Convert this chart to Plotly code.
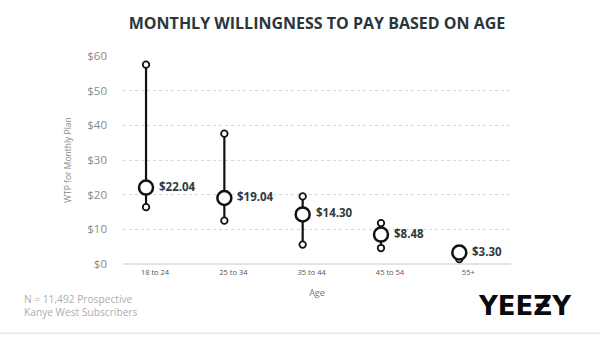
import plotly.graph_objects as go

categories = ["18 to 24", "25 to 34", "35 to 44", "45 to 54", "55+"]
wtp_mean = [22.04, 19.04, 14.30, 8.48, 3.30]
wtp_low = [16.4, 12.5, 5.6, 4.6, 1.4]
wtp_high = [57.5, 37.6, 19.5, 11.8, 3.6]
mean_labels = ["$22.04", "$19.04", "$14.30", "$8.48", "$3.30"]
y_ticks = [0, 10, 20, 30, 40, 50, 60]
y_ticklabels = ["$0", "$10", "$20", "$30", "$40", "$50", "$60"]
footnote_lines = ["N = 11,492 Prospective", "Kanye West Subscribers"]

W, H = 600, 337
L, R, T, B = 123, 89, 55.5, 72.5
PW, PH = W - L - R, H - T - B


def px_x(x):
    return (x - L) / PW


def px_y(y):
    return (H - B - y) / PH


fig = go.Figure()

# range lines
lx, ly = [], []
for c, lo, hi in zip(categories, wtp_low, wtp_high):
    lx += [c, c, None]
    ly += [lo, hi, None]
fig.add_trace(go.Scatter(x=lx, y=ly, mode="lines",
                         line=dict(color="#111111", width=2.2),
                         hoverinfo="skip", showlegend=False, cliponaxis=False))

# end circles
fig.add_trace(go.Scatter(x=categories + categories, y=wtp_low + wtp_high, mode="markers",
                         marker=dict(size=6.5, color="white",
                                     line=dict(color="#111111", width=1.8)),
                         showlegend=False, cliponaxis=False))

# mean circles
fig.add_trace(go.Scatter(x=categories, y=wtp_mean, mode="markers",
                         marker=dict(size=14, color="white",
                                     line=dict(color="#111111", width=2.5)),
                         showlegend=False, cliponaxis=False))

for c, m, lab in zip(categories, wtp_mean, mean_labels):
    fig.add_annotation(x=c, y=m, text=f"<b>{lab}</b>", xref="x", yref="y",
                       xanchor="left", yanchor="middle", xshift=11, yshift=1.5,
                       showarrow=False,
                       font=dict(family="Open Sans", size=11.5, color="#2f3a40"))

fig.update_layout(
    width=W, height=H,
    margin=dict(l=L, r=R, t=T, b=B),
    paper_bgcolor="white", plot_bgcolor="white",
    font=dict(family="Open Sans", color="#888888"),
    title=dict(text="<b>MONTHLY WILLINGNESS TO PAY BASED ON AGE</b>",
               x=0.5, xanchor="center", xref="paper",
               y=1 - 23 / H, yanchor="middle", yref="container",
               font=dict(family="Open Sans", size=16, color="#2b363c")),
    xaxis=dict(type="category", categoryorder="array", categoryarray=categories,
               range=[-0.294, 4.66], showgrid=False, zeroline=False,
               showline=False, ticks="", ticklabelshift=9, ticklabelstandoff=2,
               tickfont=dict(size=7.5, color="#555555"),
               title=dict(text="Age", font=dict(size=9, color="#777777"), standoff=14)),
    yaxis=dict(range=[0, 60], tickvals=y_ticks, ticktext=y_ticklabels,
               showgrid=True, gridcolor="#d6d6d6", griddash="dot", gridwidth=1,
               zeroline=True, zerolinecolor="#e0e4e6", zerolinewidth=2,
               showline=False, ticks="", ticklabelstandoff=15,
               tickfont=dict(size=11.5, color="#8a8a8a"),
               title=dict(text="WTP for Monthly Plan", font=dict(size=8.5, color="#8a8a8a"),
                          standoff=14)),
)

fig.add_annotation(text="<br>".join(footnote_lines), xref="paper", yref="paper",
                   x=px_x(23), y=px_y(306.5), xanchor="left", yanchor="middle",
                   align="left", showarrow=False, borderpad=0,
                   font=dict(family="Open Sans", size=10.2, color="#adadad"))

fig.add_annotation(text="<b>YEEƵY</b>", xref="paper", yref="paper",
                   x=px_x(525), y=px_y(307), xanchor="center", yanchor="middle",
                   showarrow=False,
                   font=dict(family="DejaVu Sans", size=26, color="#0a0a0a"))

fig.add_shape(type="line", xref="paper", yref="paper",
              x0=px_x(0), x1=px_x(W), y0=px_y(334), y1=px_y(334),
              line=dict(color="#e8e8e8", width=1.5))

fig.write_html("out.html")
